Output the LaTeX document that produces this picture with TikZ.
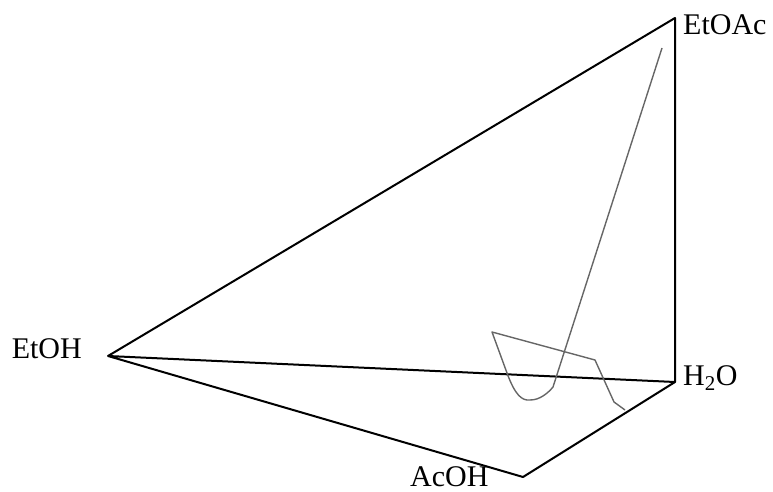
\documentclass[tikz,border=0pt]{standalone}
\usepackage{fontspec}
\setmainfont{Liberation Serif}
\tikzset{
  edge/.style={line width=2pt, line join=round},
  route/.style={line width=1.4pt, black!60, line join=round},
  vlabel/.style={inner sep=0pt, font=\fontsize{30}{30}\selectfont}
}
\begin{document}
\begin{tikzpicture}[x=1pt, y=-1pt]
\useasboundingbox (0,0) rectangle (773,492);
% vertices of the tetrahedron
\coordinate (etoac) at (675,18);
\coordinate (etoh) at (108,356);
\coordinate (water) at (675,382);
\coordinate (acoh) at (523,477);
% labels
\node[vlabel, anchor=base west] (etoacl) at (683,35) {EtOAc};
\node[vlabel, anchor=base east] (etohl) at (82,358) {EtOH};
\node[vlabel, anchor=base west] (waterl) at (683,385) {H\textsubscript{2}O};
\node[vlabel, anchor=base west] (acohl) at (410,486) {AcOH};
% edges
\draw[edge] (etoh) -- (etoac) -- (water) -- (etoh) -- (acoh) -- (water);
% composition path
\coordinate (ptop) at (662,48);
\coordinate (pend) at (625,410);
\draw[route] (ptop) -- (553,387)
  .. controls (548,393) and (540,400) .. (530,400)
  .. controls (522,401) and (515,395) .. (507,373)
  -- (492,332) -- (595,360) -- (614,402) -- (pend);
\end{tikzpicture}
\end{document}
